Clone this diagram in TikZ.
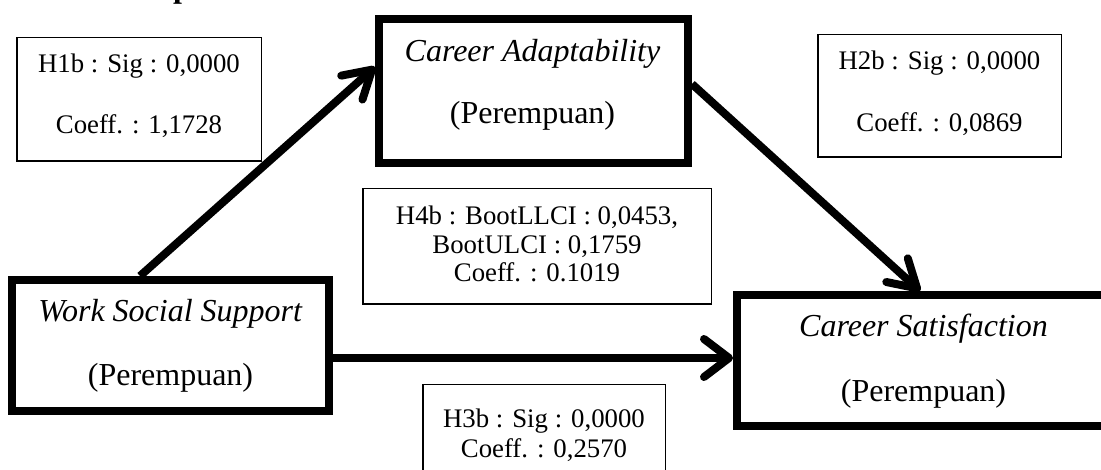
\documentclass[tikz,border=0pt]{standalone}
\usepackage{fontspec}
\setmainfont{Liberation Serif}
\usetikzlibrary{arrows.meta}
\tikzset{
  thickbox/.style={draw, line width=8pt, rectangle, inner sep=0pt},
  lblbox/.style={draw, line width=1.5pt, rectangle, inner sep=0pt},
  bigtxt/.style={anchor=base, inner sep=0pt, font=\fontsize{32}{38}\selectfont},
  smalltxt/.style={anchor=base, inner sep=0pt, font=\fontsize{26.8}{32}\selectfont},
  arr/.style={line width=8pt, -{Straight Barb[length=27pt,width=32pt,round]}},
  harr/.style={line width=8pt, -{Straight Barb[length=25pt,width=38pt,round]}},
}
\begin{document}
\begin{tikzpicture}[x=1pt,y=-1pt]
\useasboundingbox[fill=white] (0,0) rectangle (1101,470);
\clip (0,0) rectangle (1101,470);
% cut-off heading fragment
\node[anchor=base, inner sep=0pt, font=\fontsize{32}{38}\selectfont\bfseries] (head) at (182,-2) {p};

% main boxes
\node[thickbox, minimum width=309pt, minimum height=144pt] (ca) at (533.5,91) {};
\node[thickbox, minimum width=317pt, minimum height=131pt] (wss) at (170.5,345.5) {};
\node[thickbox, minimum width=373pt, minimum height=131pt] (cs) at (923.5,360.5) {};

\node[bigtxt] (ca1) at (532.5,62) {\textit{Career Adaptability}};
\node[bigtxt] (ca2) at (532.5,124) {(Perempuan)};
\node[bigtxt] (wss1) at (170.5,322) {\textit{Work Social Support}};
\node[bigtxt] (wss2) at (170.5,385) {(Perempuan)};
\node[bigtxt] (cs1) at (923.5,337) {\textit{Career Satisfaction}};
\node[bigtxt] (cs2) at (923.5,402) {(Perempuan)};

% label boxes
\node[lblbox, minimum width=244.5pt, minimum height=123.5pt] (h1) at (139,99.5) {};
\node[smalltxt] (h1a) at (139,73) {H1b : Sig : 0,0000};
\node[smalltxt] (h1b) at (139,134) {Coeff. : 1,1728};

\node[lblbox, minimum width=243.5pt, minimum height=122.5pt] (h2) at (939.5,96) {};
\node[smalltxt] (h2a) at (939.5,70) {H2b : Sig : 0,0000};
\node[smalltxt] (h2b) at (939.5,132) {Coeff. : 0,0869};

\node[lblbox, minimum width=348.5pt, minimum height=115.5pt] (h4) at (537,246.5) {};
\node[smalltxt] (h4a) at (537,225) {H4b : BootLLCI : 0,0453,};
\node[smalltxt] (h4b) at (537,254) {BootULCI : 0,1759};
\node[smalltxt] (h4c) at (537,282) {Coeff. : 0.1019};

\node[lblbox, minimum width=242.5pt, minimum height=104.5pt] (h3) at (544,437) {};
\node[smalltxt] (h3a) at (544,428) {H3b : Sig : 0,0000};
\node[smalltxt] (h3b) at (544,457) {Coeff. : 0,2570};

% connectors
\draw[arr] ([xshift=132pt]wss.north west) -- ([yshift=-52pt]ca.north west);
\draw[arr] ([yshift=-69pt]ca.north east) -- ([xshift=187pt]cs.north west);
\draw[harr] ([yshift=-12.5pt]wss.east) -- ([yshift=2.5pt]cs.west);
\end{tikzpicture}
\end{document}
